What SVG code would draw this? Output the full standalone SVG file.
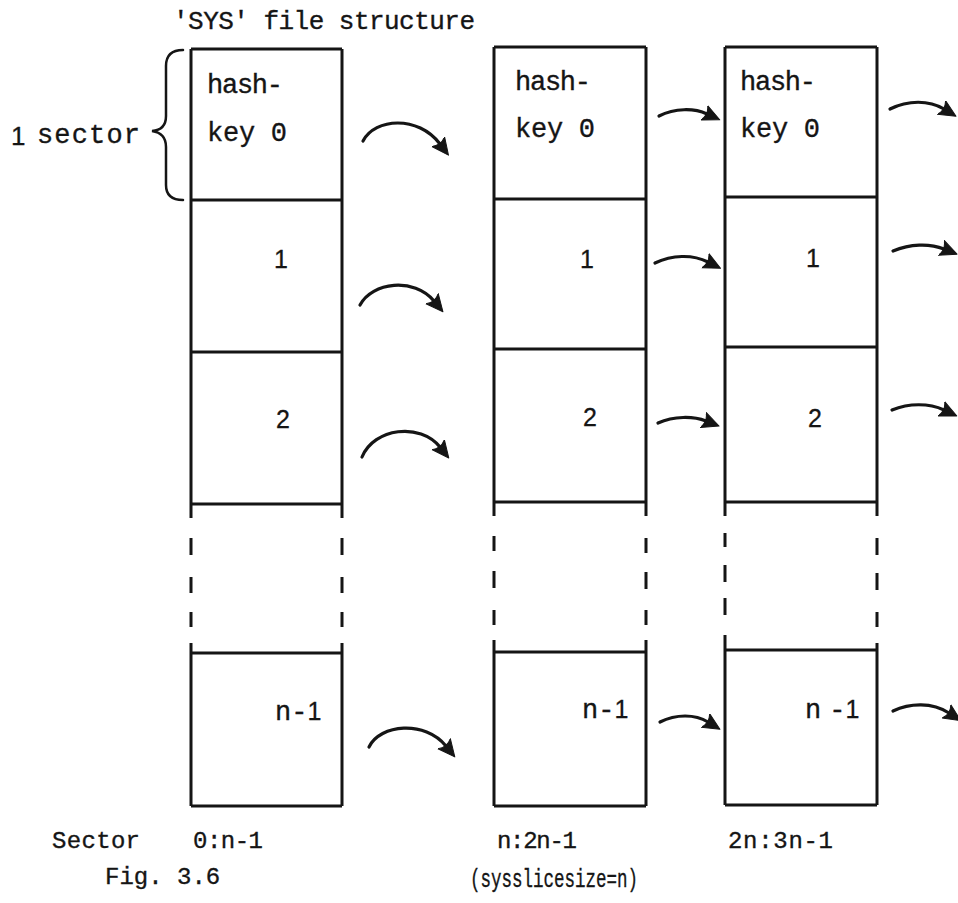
<svg xmlns="http://www.w3.org/2000/svg" width="958" height="903" viewBox="0 0 958 903">
  <style>
    .ink { fill: none; stroke: #151515; stroke-width: 3; stroke-linecap: butt; }
    .brace { fill: none; stroke: #151515; stroke-width: 2.5; stroke-linecap: round; }
    .arc { fill: none; stroke: #151515; stroke-width: 3.2; stroke-linecap: round; marker-end: url(#head); }
    .mono { font-family: "Liberation Mono", "Courier New", monospace; fill: #151515; stroke: #151515; stroke-width: 0.35; }
    .sans { font-family: "Liberation Sans", Arial, sans-serif; fill: #151515; stroke: #151515; stroke-width: 0.3; }
    .lbl { font-size: 27px; }
    .num { font-size: 25px; text-anchor: middle; }
    .foot { font-size: 24px; }
  </style>
  <defs>
    <!-- filled, slightly rounded arrowhead shared by every link -->
    <marker id="head" markerUnits="userSpaceOnUse" markerWidth="20" markerHeight="18" refX="3" refY="8.5" orient="auto">
      <path d="M0,0.5 L17,8.5 L0,16.5 Q5,8.5 0,0.5 Z" fill="#151515" stroke="#151515" stroke-width="1" stroke-linejoin="round"/>
    </marker>
  </defs>

  <rect width="958" height="903" fill="#ffffff"/>

  <!-- title -->
  <text class="mono" x="173" y="29" font-size="26" textLength="302">'SYS' file structure</text>

  <!-- sector brace -->
  <g id="sector-brace">
    <text class="sans" x="11" y="145" font-size="26">1</text>
    <text class="mono" x="37" y="143" font-size="27" textLength="103">sector</text>
    <path class="brace" d="M183,50 Q166,50 166,66 L166,116 Q166,130 152,131 Q166,133 166,147 L166,185 Q166,200 183,200"/>
  </g>

  <!-- slice 0 : sectors 0..n-1 -->
  <g id="slice0">
    <path class="ink" d="M191,49 H342 M191,49 V518 M342,49 V518 M191,200 H342 M191,352 H342 M191,504 H342"/>
    <path class="ink" d="M191,538 V555 M191,577 V593 M191,612 V627 M342,538 V555 M342,577 V593 M342,612 V627"/>
    <path class="ink" d="M191,643 V806 M342,643 V806 M191,653 H342 M191,806 H342"/>
    <text class="mono lbl" x="207" y="93" textLength="76">hash-</text>
    <text class="mono lbl" x="207" y="141" textLength="80">key 0</text>
    <text class="sans num" x="281" y="268">1</text>
    <text class="sans num" x="283" y="428">2</text>
    <text class="mono lbl" x="275" y="720">n-<tspan class="sans" font-size="25">1</tspan></text>
  </g>

  <!-- slice 1 : sectors n..2n-1 -->
  <g id="slice1">
    <path class="ink" d="M494,47 H646 M494,47 V516 M646,47 V516 M494,199 H646 M494,349 H646 M494,502 H646"/>
    <path class="ink" d="M494,536 V551 M494,571 V588 M494,610 V625 M646,538 V553 M646,572 V589 M646,610 V625"/>
    <path class="ink" d="M494,640 V806 M646,640 V806 M494,652 H646 M494,806 H646"/>
    <text class="mono lbl" x="515" y="90" textLength="76">hash-</text>
    <text class="mono lbl" x="515" y="137" textLength="80">key 0</text>
    <text class="sans num" x="587" y="268">1</text>
    <text class="sans num" x="590" y="426">2</text>
    <text class="mono lbl" x="582" y="718">n-<tspan class="sans" font-size="25">1</tspan></text>
  </g>

  <!-- slice 2 : sectors 2n..3n-1 -->
  <g id="slice2">
    <path class="ink" d="M725,47 H877 M725,47 V516 M877,47 V516 M725,197 H877 M725,347 H877 M725,502 H877"/>
    <path class="ink" d="M725,533 V547 M725,565 V582 M725,598 V615 M877,538 V555 M877,573 V590 M877,612 V627"/>
    <path class="ink" d="M725,635 V805 M877,643 V805 M725,650 H877 M725,805 H877"/>
    <text class="mono lbl" x="740" y="90" textLength="76">hash-</text>
    <text class="mono lbl" x="740" y="137" textLength="80">key 0</text>
    <text class="sans num" x="813" y="267">1</text>
    <text class="sans num" x="815" y="427">2</text>
    <text class="mono lbl" x="805" y="718">n<tspan dx="8">-</tspan><tspan class="sans" font-size="25">1</tspan></text>
  </g>

  <!-- links between slices -->
  <g id="connectors">
    <path class="arc" d="M363,141 C375,118 418,115 440,144"/>
    <path class="arc" d="M360,305 C372,282 414,277 434,301"/>
    <path class="arc" d="M362,457 C374,428 420,422 440,447"/>
    <path class="arc" d="M369,747 C380,724 425,720 446,746"/>

    <path class="arc" d="M659,116 C675,108 694,108 707,114"/>
    <path class="arc" d="M655,263 C672,255 692,254 708,262"/>
    <path class="arc" d="M658,423 C674,416 693,416 706,421"/>
    <path class="arc" d="M660,722 C676,714 695,714 708,722"/>

    <path class="arc" d="M890,109 C908,100 929,100 944,109"/>
    <path class="arc" d="M893,251 C910,244 929,243 944,249"/>
    <path class="arc" d="M892,410 C909,403 929,403 944,410"/>
    <path class="arc" d="M893,711 C910,703 932,702 949,713"/>
  </g>

  <!-- sector ranges and caption -->
  <g id="footer">
    <text class="mono foot" x="52" y="848" textLength="88">Sector</text>
    <text class="mono foot" x="193" y="848" textLength="70">0:n-1</text>
    <text class="mono foot" x="497" y="848" textLength="80">n:2n-1</text>
    <text class="mono foot" x="728" y="848" textLength="105">2n:3n-1</text>
    <text class="mono foot" x="105" y="884">Fig. 3.6</text>
    <text class="mono" x="470" y="887" font-size="25" textLength="168" lengthAdjust="spacingAndGlyphs">(sysslicesize=n)</text>
  </g>
</svg>
